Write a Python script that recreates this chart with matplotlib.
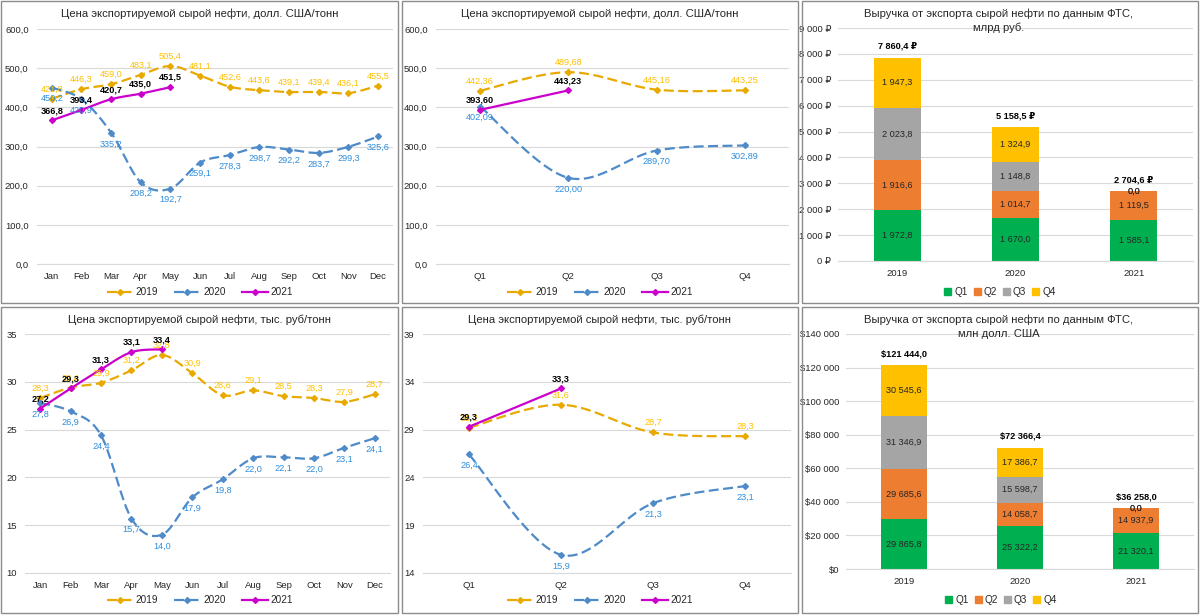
import numpy as np
import matplotlib
matplotlib.use('Agg')
import matplotlib.pyplot as plt
from matplotlib.patches import Rectangle
from matplotlib.lines import Line2D

plt.rcParams['font.family'] = ['Liberation Sans', 'DejaVu Sans']

# ---------------- data ----------------
months = ['Jan', 'Feb', 'Mar', 'Apr', 'May', 'Jun', 'Jul', 'Aug', 'Sep', 'Oct', 'Nov', 'Dec']
quarters = ['Q1', 'Q2', 'Q3', 'Q4']
years = ['2019', '2020', '2021']

usd_m_2019 = [421.8, 446.3, 459.0, 483.1, 505.4, 481.1, 452.6, 443.6, 439.1, 439.4, 436.1, 455.5]
usd_m_2020 = [450.2, 420.9, 335.2, 208.2, 192.7, 259.1, 278.3, 298.7, 292.2, 283.7, 299.3, 325.6]
usd_m_2021 = [366.8, 393.4, 420.7, 435.0, 451.5]

usd_q_2019 = [442.36, 489.68, 445.16, 443.25]
usd_q_2020 = [402.09, 220.00, 289.70, 302.89]
usd_q_2021 = [393.60, 443.23]

rub_m_2019 = [28.3, 29.4, 29.9, 31.2, 32.8, 30.9, 28.6, 29.1, 28.5, 28.3, 27.9, 28.7]
rub_m_2020 = [27.8, 26.9, 24.4, 15.7, 14.0, 17.9, 19.8, 22.0, 22.1, 22.0, 23.1, 24.1]
rub_m_2021 = [27.2, 29.3, 31.3, 33.1, 33.4]

rub_q_2019 = [29.2, 31.6, 28.7, 28.3]
rub_q_2020 = [26.4, 15.9, 21.3, 23.1]
rub_q_2021 = [29.3, 33.3]

# revenue, bln RUB, per year by quarter
rev_rub_q1 = [1972.8, 1670.0, 1585.1]
rev_rub_q2 = [1916.6, 1014.7, 1119.5]
rev_rub_q3 = [2023.8, 1148.8, 0.0]
rev_rub_q4 = [1947.3, 1324.9, 0.0]
rev_rub_total = [7860.4, 5158.5, 2704.6]

# revenue, mln USD
rev_usd_q1 = [29865.8, 25322.2, 21320.1]
rev_usd_q2 = [29685.6, 14058.7, 14937.9]
rev_usd_q3 = [31346.9, 15598.7, 0.0]
rev_usd_q4 = [30545.6, 17386.7, 0.0]
rev_usd_total = [121444.0, 72366.4, 36258.0]

# ---------------- styling ----------------
W, H = 1201, 616
C2019, L2019 = '#E8A900', '#FFC000'
C2020, L2020 = '#4E8BC8', '#2F8EDC'
C2021 = '#CC00CC'
QCOL = ['#00B050', '#ED7D31', '#A5A5A5', '#FFC000']
TXT = '#262626'
GRID = '#D9D9D9'
TICK_FS = 6.8
LBL_FS = 6.6
TITLE_FS = 8.1

fig = plt.figure(figsize=(W / 100, H / 100), dpi=100)


def px_rect(x0, y0, x1, y1):
    return [x0 / W, 1 - y1 / H, (x1 - x0) / W, (y1 - y0) / H]


def fx(x):
    return x / W


def fy(y):
    return 1 - y / H


def fmt(v, d):
    s = f"{v:,.{d}f}"
    return s.replace(',', ' ').replace('.', ',')


def smooth(xs, ys, n=30):
    pts = np.column_stack([xs, ys]).astype(float)
    ext = np.vstack([pts[0], pts, pts[-1]])
    t = np.linspace(0, 1, n)
    out = []
    for i in range(len(pts) - 1):
        p0, p1, p2, p3 = ext[i], ext[i + 1], ext[i + 2], ext[i + 3]
        c1 = p1 + (p2 - p0) / 6
        c2 = p2 - (p3 - p1) / 6
        seg = (((1 - t) ** 3)[:, None] * p1 + (3 * (1 - t) ** 2 * t)[:, None] * c1
               + (3 * (1 - t) * t ** 2)[:, None] * c2 + (t ** 3)[:, None] * p2)
        out.append(seg if i == 0 else seg[1:])
    out = np.vstack(out)
    return out[:, 0], out[:, 1]


# panel borders
for (x0, y0, x1, y1) in [(1, 1, 398, 303), (402, 1, 798, 303), (802, 1, 1198, 303),
                         (1, 307, 398, 613), (402, 307, 798, 613), (802, 307, 1198, 613)]:
    fig.patches.append(Rectangle((fx(x0), fy(y1)), (x1 - x0) / W, (y1 - y0) / H,
                                 transform=fig.transFigure, fill=False,
                                 edgecolor='#8C8C8C', lw=1.0))


def style_axes(ax):
    for s in ['top', 'right', 'left']:
        ax.spines[s].set_visible(False)
    ax.spines['bottom'].set_color(GRID)
    ax.spines['bottom'].set_linewidth(0.8)
    ax.grid(axis='y', color=GRID, lw=0.8)
    ax.set_axisbelow(True)
    ax.tick_params(axis='both', length=0, labelsize=TICK_FS, labelcolor=TXT)
    ax.tick_params(axis='y', pad=6)
    ax.tick_params(axis='x', pad=6)


def line_panel(rect, cats, s19, s20, s21, ylim, ystep, yfmt, dec, title, title_xy, leg_xy):
    ax = fig.add_axes(px_rect(*rect))
    x = np.arange(len(cats))
    series = [(s19, C2019, L2019, (0, (4.5, 2)), 7, False, '2019', 2),
              (s20, C2020, L2020, (0, (4.5, 2)), -8, False, '2020', 3),
              (s21, C2021, '#000000', '-', 7, True, '2021', 4)]
    handles = []
    for vals, col, lcol, ls, off, bold, name, z in series:
        xs = x[:len(vals)]
        sx, sy = smooth(xs, vals)
        ax.plot(sx, sy, color=col, lw=1.6, ls=ls, zorder=z)
        ax.plot(xs, vals, ls='none', marker='D', ms=3.0, color=col, zorder=z)
        for xi, v in zip(xs, vals):
            ax.annotate(fmt(v, dec), (xi, v), xytext=(0, off), textcoords='offset points',
                        ha='center', va='center', fontsize=LBL_FS, color=lcol,
                        fontweight='bold' if bold else 'normal', zorder=z + 5)
        handles.append(Line2D([], [], color=col, lw=1.6, ls=ls, marker='D', ms=3.0, label=name))
    ax.set_xlim(-0.5, len(cats) - 0.5)
    ax.set_ylim(*ylim)
    ax.set_xticks(x)
    ax.set_xticklabels(cats)
    yt = np.arange(ylim[0], ylim[1] + ystep / 2, ystep)
    ax.set_yticks(yt)
    ax.set_yticklabels([yfmt(v) for v in yt])
    style_axes(ax)
    fig.text(fx(title_xy[0]), fy(title_xy[1]), title, ha='center', va='center',
             fontsize=TITLE_FS, color=TXT)
    fig.legend(handles=handles, loc='center', bbox_to_anchor=(fx(leg_xy[0]), fy(leg_xy[1])),
               bbox_transform=fig.transFigure, ncol=3, frameon=False, fontsize=TICK_FS + 0.4,
               handlelength=2.6, columnspacing=1.6, handletextpad=0.3, labelcolor=TXT)
    return ax


def bar_panel(rect, q1, q2, q3, q4, total, ylim, ystep, yfmt, totfmt, title_lines, title_xy, leg_xy, width):
    ax = fig.add_axes(px_rect(*rect))
    x = np.arange(len(years))
    bottom = np.zeros(len(years))
    handles = []
    for vals, col, name in zip([q1, q2, q3, q4], QCOL, quarters):
        vals = np.array(vals)
        ax.bar(x, vals, bottom=bottom, width=width, color=col, zorder=2)
        for xi, b, v in zip(x, bottom, vals):
            ax.text(xi, b + v / 2, fmt(v, 1), ha='center', va='center', fontsize=LBL_FS,
                    color='#262626', zorder=5)
        bottom = bottom + vals
        handles.append(Rectangle((0, 0), 1, 1, color=col, label=name))
    for xi, tv in zip(x, total):
        ax.annotate(totfmt(tv), (xi, tv), xytext=(0, 8), textcoords='offset points',
                    ha='center', va='center', fontsize=LBL_FS, fontweight='bold', color='#000000')
    ax.set_xlim(-0.5, len(years) - 0.5)
    ax.set_ylim(*ylim)
    ax.set_xticks(x)
    ax.set_xticklabels(years)
    yt = np.arange(ylim[0], ylim[1] + ystep / 2, ystep)
    ax.set_yticks(yt)
    ax.set_yticklabels([yfmt(v) for v in yt])
    style_axes(ax)
    ax.tick_params(axis='y', pad=5)
    for i, line in enumerate(title_lines):
        fig.text(fx(title_xy[0]), fy(title_xy[1] + i * 14), line, ha='center', va='center',
                 fontsize=TITLE_FS, color=TXT)
    fig.legend(handles=handles, loc='center', bbox_to_anchor=(fx(leg_xy[0]), fy(leg_xy[1])),
               bbox_transform=fig.transFigure, ncol=4, frameon=False, fontsize=TICK_FS + 0.4,
               handlelength=0.7, handleheight=0.7, columnspacing=0.6, handletextpad=0.3,
               labelcolor=TXT)
    return ax


dec1 = lambda v: f"{v:.1f}".replace('.', ',')
intf = lambda v: f"{int(v)}"
rubf = lambda v: fmt(v, 0) + ' ₽'
usdf = lambda v: '$' + fmt(v, 0)

line_panel((37, 29, 393, 264), months, usd_m_2019, usd_m_2020, usd_m_2021,
           (0, 600), 100, dec1, 1, 'Цена экспортируемой сырой нефти, долл. США/тонн',
           (200, 14), (200, 292))
line_panel((436, 29, 789, 264), quarters, usd_q_2019, usd_q_2020, usd_q_2021,
           (0, 600), 100, dec1, 2, 'Цена экспортируемой сырой нефти, долл. США/тонн',
           (600, 14), (600, 292))
line_panel((25, 334, 390, 573), months, rub_m_2019, rub_m_2020, rub_m_2021,
           (10, 35), 5, intf, 1, 'Цена экспортируемой сырой нефти, тыс. руб/тонн',
           (200, 320), (200, 600))
line_panel((423, 334, 791, 573), quarters, rub_q_2019, rub_q_2020, rub_q_2021,
           (14, 39), 5, intf, 1, 'Цена экспортируемой сырой нефти, тыс. руб/тонн',
           (600, 320), (600, 600))

bar_panel((838, 28, 1193, 261), rev_rub_q1, rev_rub_q2, rev_rub_q3, rev_rub_q4, rev_rub_total,
          (0, 9000), 1000, rubf, lambda v: fmt(v, 1) + ' ₽',
          ['Выручка от экспорта сырой нефти по данным ФТС,', 'млрд руб.'], (999, 14), (1000, 292), 0.4)
bar_panel((846, 334, 1194, 569), rev_usd_q1, rev_usd_q2, rev_usd_q3, rev_usd_q4, rev_usd_total,
          (0, 140000), 20000, usdf, lambda v: '$' + fmt(v, 1),
          ['Выручка от экспорта сырой нефти по данным ФТС,', 'млн долл. США'], (999, 320), (1001, 600), 0.39)

fig.savefig('out.png', dpi=100)
